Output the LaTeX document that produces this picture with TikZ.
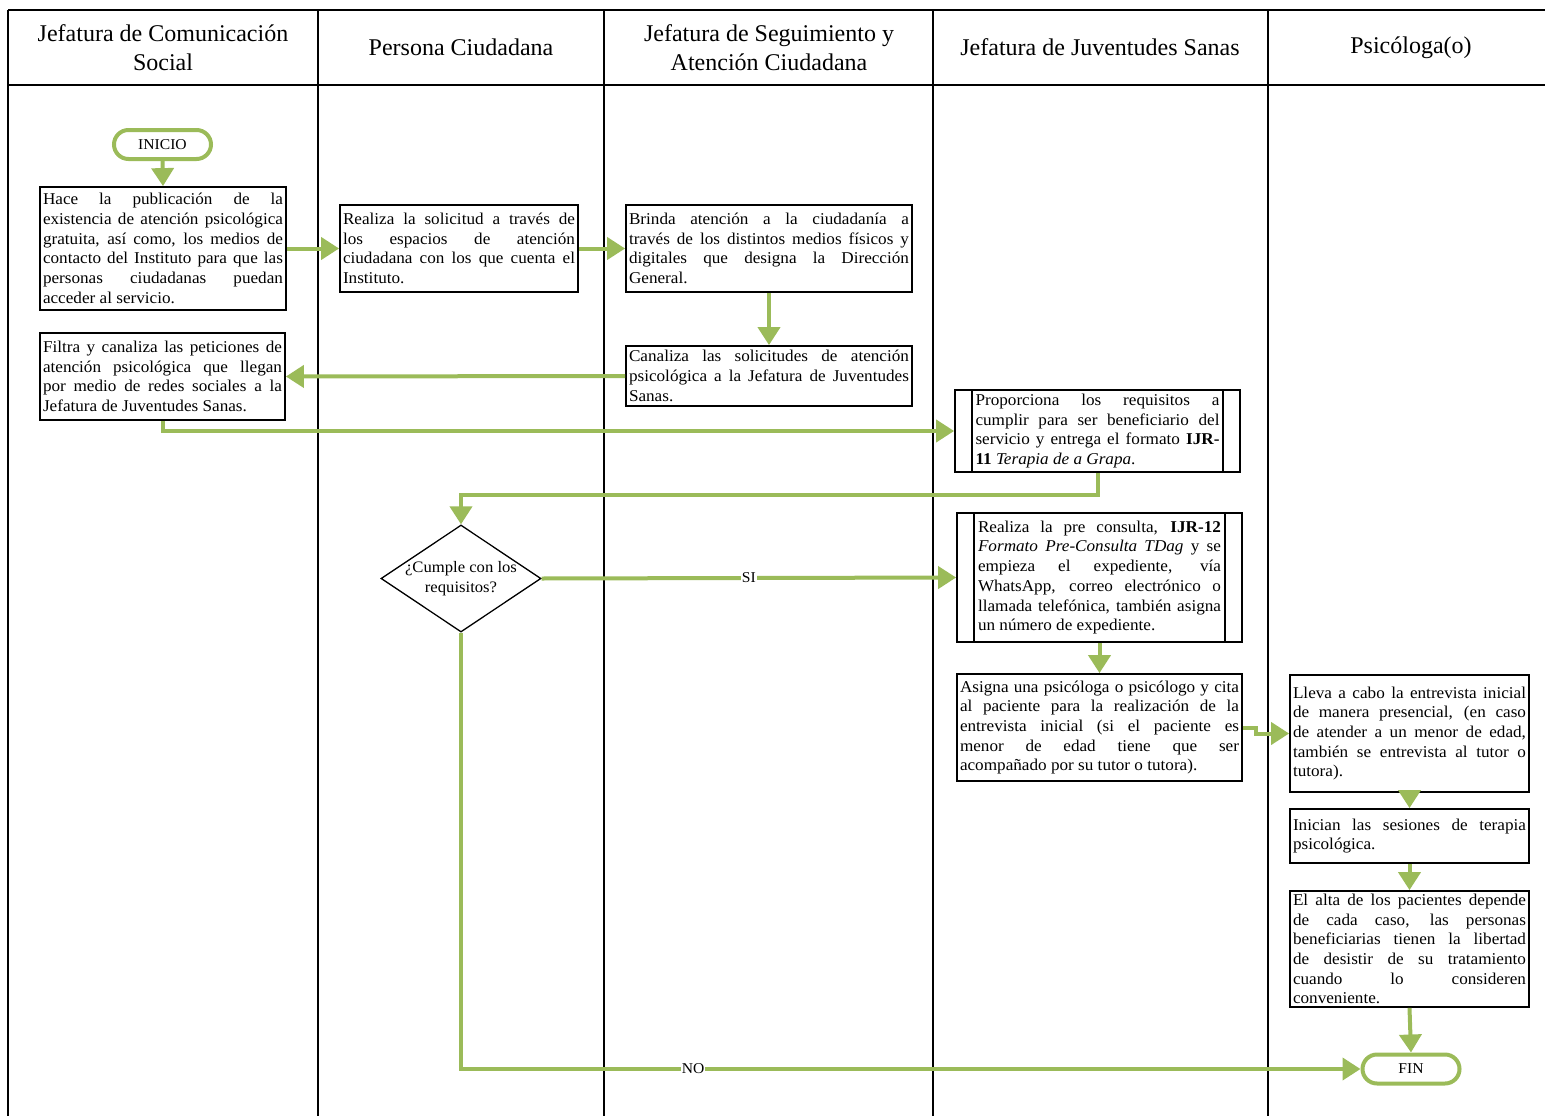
\documentclass[tikz,border=0pt]{standalone}
\usepackage{fontspec}
\setmainfont{Liberation Serif}[FakeStretch=1.04]
\newfontfamily\hdrfont{Liberation Serif}
\usetikzlibrary{arrows.meta,shapes.geometric}
\definecolor{flowgreen}{HTML}{9BBB59}
\newcommand{\JL}[1]{\hbox to \hsize{\spaceskip=0pt\xspaceskip=0pt #1}\par}
\newcommand{\bodyfnt}{\fontsize{16.5}{19.7}\selectfont}
\tikzset{
  lane/.style={draw=black, line width=1.3pt},
  procbox/.style={draw=black, line width=1.8pt, fill=white, inner xsep=3pt, inner ysep=2pt, align=justify, font=\bodyfnt},
  barline/.style={draw=black, line width=1.8pt},
  term/.style={draw=flowgreen, line width=4pt, rounded corners=14.5pt, minimum width=97pt, minimum height=29pt, inner sep=0pt, fill=white, font=\fontsize{15}{18}\selectfont},
  decision/.style={draw=black, line width=1.3pt, shape=diamond, minimum width=160pt, minimum height=107pt, inner sep=0pt, fill=white},
  dectext/.style={align=center, inner sep=0pt, font=\fontsize{16}{20}\selectfont},
  flow/.style={draw=flowgreen, line width=4pt, -{Triangle[length=18pt,width=22pt]}},
  lbl/.style={fill=white, inner sep=1pt, font=\fontsize{15}{18}\selectfont},
  hdr/.style={align=center, font=\hdrfont\fontsize{24}{29.5}\selectfont}
}
\begin{document}
\begin{tikzpicture}[x=1pt, y=-1pt]
\useasboundingbox (0,0) rectangle (1545,1116);
% swimlane table
\draw[lane] (8,10) -- (1545,10);
\draw[lane] (8,85) -- (1545,85);
\foreach \xx in {8,318,604,933,1268} { \draw[lane] (\xx,10) -- (\xx,1116); }
% headers
\node[hdr] (h1) at (163,47.5) {Jefatura de Comunicación\\Social};
\node[hdr] (h2) at (461,47.5) {Persona Ciudadana};
\node[hdr] (h3) at (769,47.5) {Jefatura de Seguimiento y\\Atención Ciudadana};
\node[hdr] (h4) at (1100,47.5) {Jefatura de Juventudes Sanas};
\node[hdr] (h5) at (1411,47.5) {Psicóloga(o)};
% terminals
\node[term] (ini) at (162.5,144.5) {INICIO};
\node[term] (fin) at (1411,1069) {FIN};
% boxes
\node[procbox, minimum width=246pt, minimum height=123pt, text width=240pt] (b1) at (163,248.5) {%
\JL{Hace la publicación de la}\JL{existencia de atención psicológica}\JL{gratuita, así como, los medios de}\JL{contacto del Instituto para que las}\JL{personas ciudadanas puedan}acceder al servicio.};
\node[procbox, minimum width=238pt, minimum height=87pt, text width=232pt] (b2) at (459,248.5) {%
\JL{Realiza la solicitud a través de}\JL{los espacios de atención}\JL{ciudadana con los que cuenta el}Instituto.};
\node[procbox, minimum width=286pt, minimum height=87pt, text width=280pt] (b3) at (769,248.5) {%
\JL{Brinda atención a la ciudadanía a}\JL{través de los distintos medios físicos y}\JL{digitales que designa la Dirección}General.};
\node[procbox, minimum width=286pt, minimum height=60pt, text width=280pt] (b4) at (769,376) {%
\JL{Canaliza las solicitudes de atención}\JL{psicológica a la Jefatura de Juventudes}Sanas.};
\node[procbox, minimum width=245pt, minimum height=87pt, text width=239pt] (b5) at (162.5,376.5) {%
\JL{Filtra y canaliza las peticiones de}\JL{atención psicológica que llegan}\JL{por medio de redes sociales a la}Jefatura de Juventudes Sanas.};
\node[procbox, minimum width=285pt, minimum height=82pt, text width=244pt] (b6) at (1097.5,431) {%
\JL{Proporciona los requisitos a}\JL{cumplir para ser beneficiario del}\JL{servicio y entrega el formato \textbf{IJR-}}\textbf{11} \textit{Terapia de a Grapa}.};
\draw[barline] ([xshift=18pt]b6.north west) -- ([xshift=18pt]b6.south west);
\draw[barline] ([xshift=-18pt]b6.north east) -- ([xshift=-18pt]b6.south east);
\node[procbox, minimum width=285pt, minimum height=129pt, text width=243pt] (b7) at (1099.5,577.5) {%
\JL{Realiza la pre consulta, \textbf{IJR-12}}\JL{\textit{Formato Pre-Consulta TDag} y se}\JL{empieza el expediente, vía}\JL{WhatsApp, correo electrónico o}\JL{llamada telefónica, también asigna}un número de expediente.};
\draw[barline] ([xshift=18pt]b7.north west) -- ([xshift=18pt]b7.south west);
\draw[barline] ([xshift=-18pt]b7.north east) -- ([xshift=-18pt]b7.south east);
\node[procbox, minimum width=285pt, minimum height=107pt, text width=279pt] (b8) at (1099.5,727.5) {%
\JL{Asigna una psicóloga o psicólogo y cita}\JL{al paciente para la realización de la}\JL{entrevista inicial (si el paciente es}\JL{menor de edad tiene que ser}acompañado por su tutor o tutora).};
\node[procbox, minimum width=239pt, minimum height=117pt, text width=233pt] (b9) at (1409.5,733.5) {%
\JL{Lleva a cabo la entrevista inicial}\JL{de manera presencial, (en caso}\JL{de atender a un menor de edad,}\JL{también se entrevista al tutor o}tutora).};
\node[procbox, minimum width=239pt, minimum height=54pt, text width=233pt] (b10) at (1409.5,836) {%
\JL{Inician las sesiones de terapia}psicológica.};
\node[procbox, minimum width=239pt, minimum height=116pt, text width=233pt] (b11) at (1409.5,949) {%
\JL{El alta de los pacientes depende}\JL{de cada caso, las personas}\JL{beneficiarias tienen la libertad}\JL{de desistir de su tratamiento}\JL{cuando lo consideren}conveniente.};
\node[decision] (dec) at (461,578.5) {};
\node[dectext] (dect) at (dec.center) {¿Cumple con los\\requisitos?};
% connectors
\draw[flow] (ini.south) -- (b1.north);
\draw[flow] (b1.east) -- (b2.west);
\draw[flow] (b2.east) -- (b3.west);
\draw[flow] (b3.south) -- (b4.north);
\draw[flow] (b4.west) -- (b5.east);
\draw[flow] (b5.south) |- (b6.west);
\draw[flow] (b6.south) -- ++(0,22) -| (dec.north);
\draw[flow] (dec.east) -- node[lbl] (si) {SI} (b7.west);
\draw[flow] (b7.south) -- (b8.north);
\draw[flow] (b8.east) -- ++(13,0) |- (b9.west);
\draw[flow] (b9.south) -- (b10.north);
\draw[flow] (b10.south) -- (b11.north);
\draw[flow] (b11.south) -- (fin.north);
\draw[flow] (dec.south) -- (dec.south |- fin.west) -- node[lbl, pos=0.258] (no) {NO} (fin.west);
\end{tikzpicture}
\end{document}
